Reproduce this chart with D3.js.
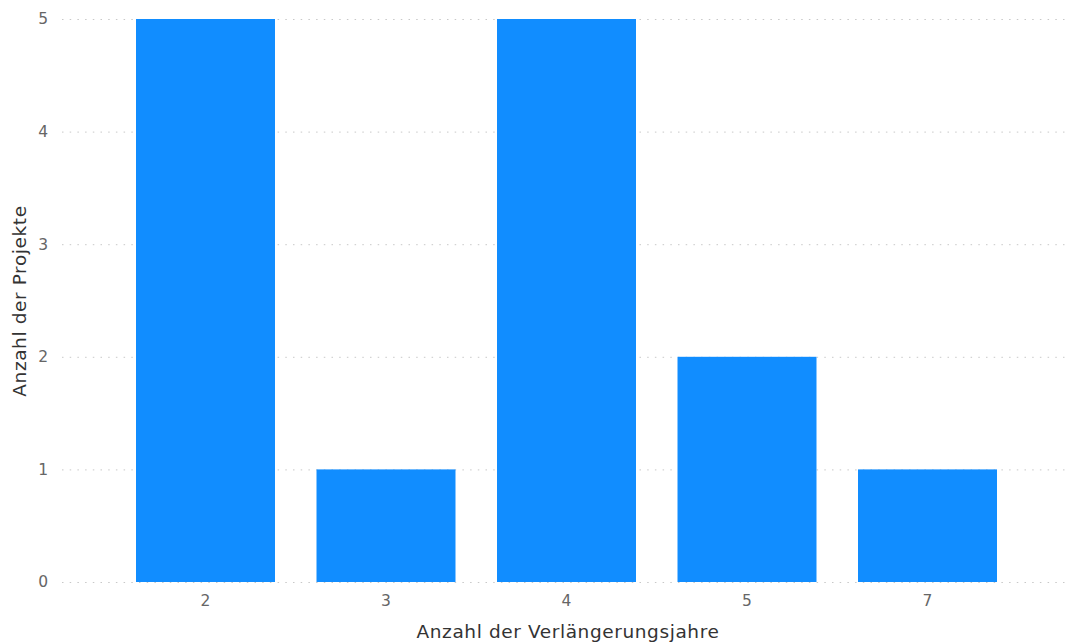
<!DOCTYPE html>
<html>
<head>
<meta charset="utf-8">
<script src="https://cdn.jsdelivr.net/npm/d3@7"></script>
<style>
  body { margin: 0; background: #fff; }
  svg text { font-family: "DejaVu Sans", "Roboto", sans-serif; }
</style>
</head>
<body>
<div id="chart"></div>
<script>
// Anzahl der Projekte pro Anzahl der Verlängerungsjahre
const categories = ["2", "3", "4", "5", "7"];
const projectCounts = [5, 1, 5, 2, 1];
const yTicks = [0, 1, 2, 3, 4, 5];

const width = 1067, height = 642;
const margin = {top: 19, right: 0, bottom: 60, left: 62};

const svg = d3.select("#chart")
  .append("svg")
  .attr("width", width)
  .attr("height", height);

const xScale = d3.scaleBand()
  .domain(categories)
  .range([136, 997])
  .paddingInner(0.23)
  .paddingOuter(0);

const yScale = d3.scaleLinear()
  .domain([0, 5])
  .range([height - margin.bottom, margin.top]);

// gridlines
svg.append("g")
  .selectAll("line")
  .data(yTicks)
  .enter()
  .append("line")
  .attr("x1", margin.left)
  .attr("x2", width - margin.right)
  .attr("y1", function (d) { return yScale(d) + 0.5; })
  .attr("y2", function (d) { return yScale(d) + 0.5; })
  .attr("stroke", "#c8c8c8")
  .attr("stroke-width", 1)
  .attr("stroke-dasharray", "1.5,6.2");

// y axis labels
const yAxis = d3.axisLeft(yScale)
  .tickValues(yTicks)
  .tickSize(0)
  .tickPadding(0)
  .tickFormat(d3.format("d"));

svg.append("g")
  .attr("transform", "translate(48,0)")
  .call(yAxis)
  .call(function (g) { g.select(".domain").remove(); })
  .selectAll("text")
  .attr("fill", "#666")
  .style("font-size", "15.5px");

// bars
svg.append("g")
  .selectAll("rect")
  .data(projectCounts)
  .enter()
  .append("rect")
  .attr("x", function (d, i) { return xScale(categories[i]); })
  .attr("y", function (d) { return yScale(d); })
  .attr("width", xScale.bandwidth())
  .attr("height", function (d) { return yScale(0) - yScale(d); })
  .attr("fill", "#118DFF");

// x axis labels
const xAxis = d3.axisBottom(xScale)
  .tickSize(0)
  .tickPadding(0);

svg.append("g")
  .attr("transform", "translate(0," + (yScale(0) + 13) + ")")
  .call(xAxis)
  .call(function (g) { g.select(".domain").remove(); })
  .selectAll("text")
  .attr("fill", "#666")
  .style("font-size", "15.5px");

// axis titles
svg.append("text")
  .attr("x", 568)
  .attr("y", 638)
  .attr("text-anchor", "middle")
  .attr("fill", "#333")
  .style("font-size", "18.5px")
  .style("letter-spacing", "0.6px")
  .text("Anzahl der Verlängerungsjahre");

svg.append("text")
  .attr("transform", "translate(26,301) rotate(-90)")
  .attr("text-anchor", "middle")
  .attr("fill", "#333")
  .style("font-size", "18.5px")
  .style("letter-spacing", "0.6px")
  .text("Anzahl der Projekte");
</script>
</body>
</html>
